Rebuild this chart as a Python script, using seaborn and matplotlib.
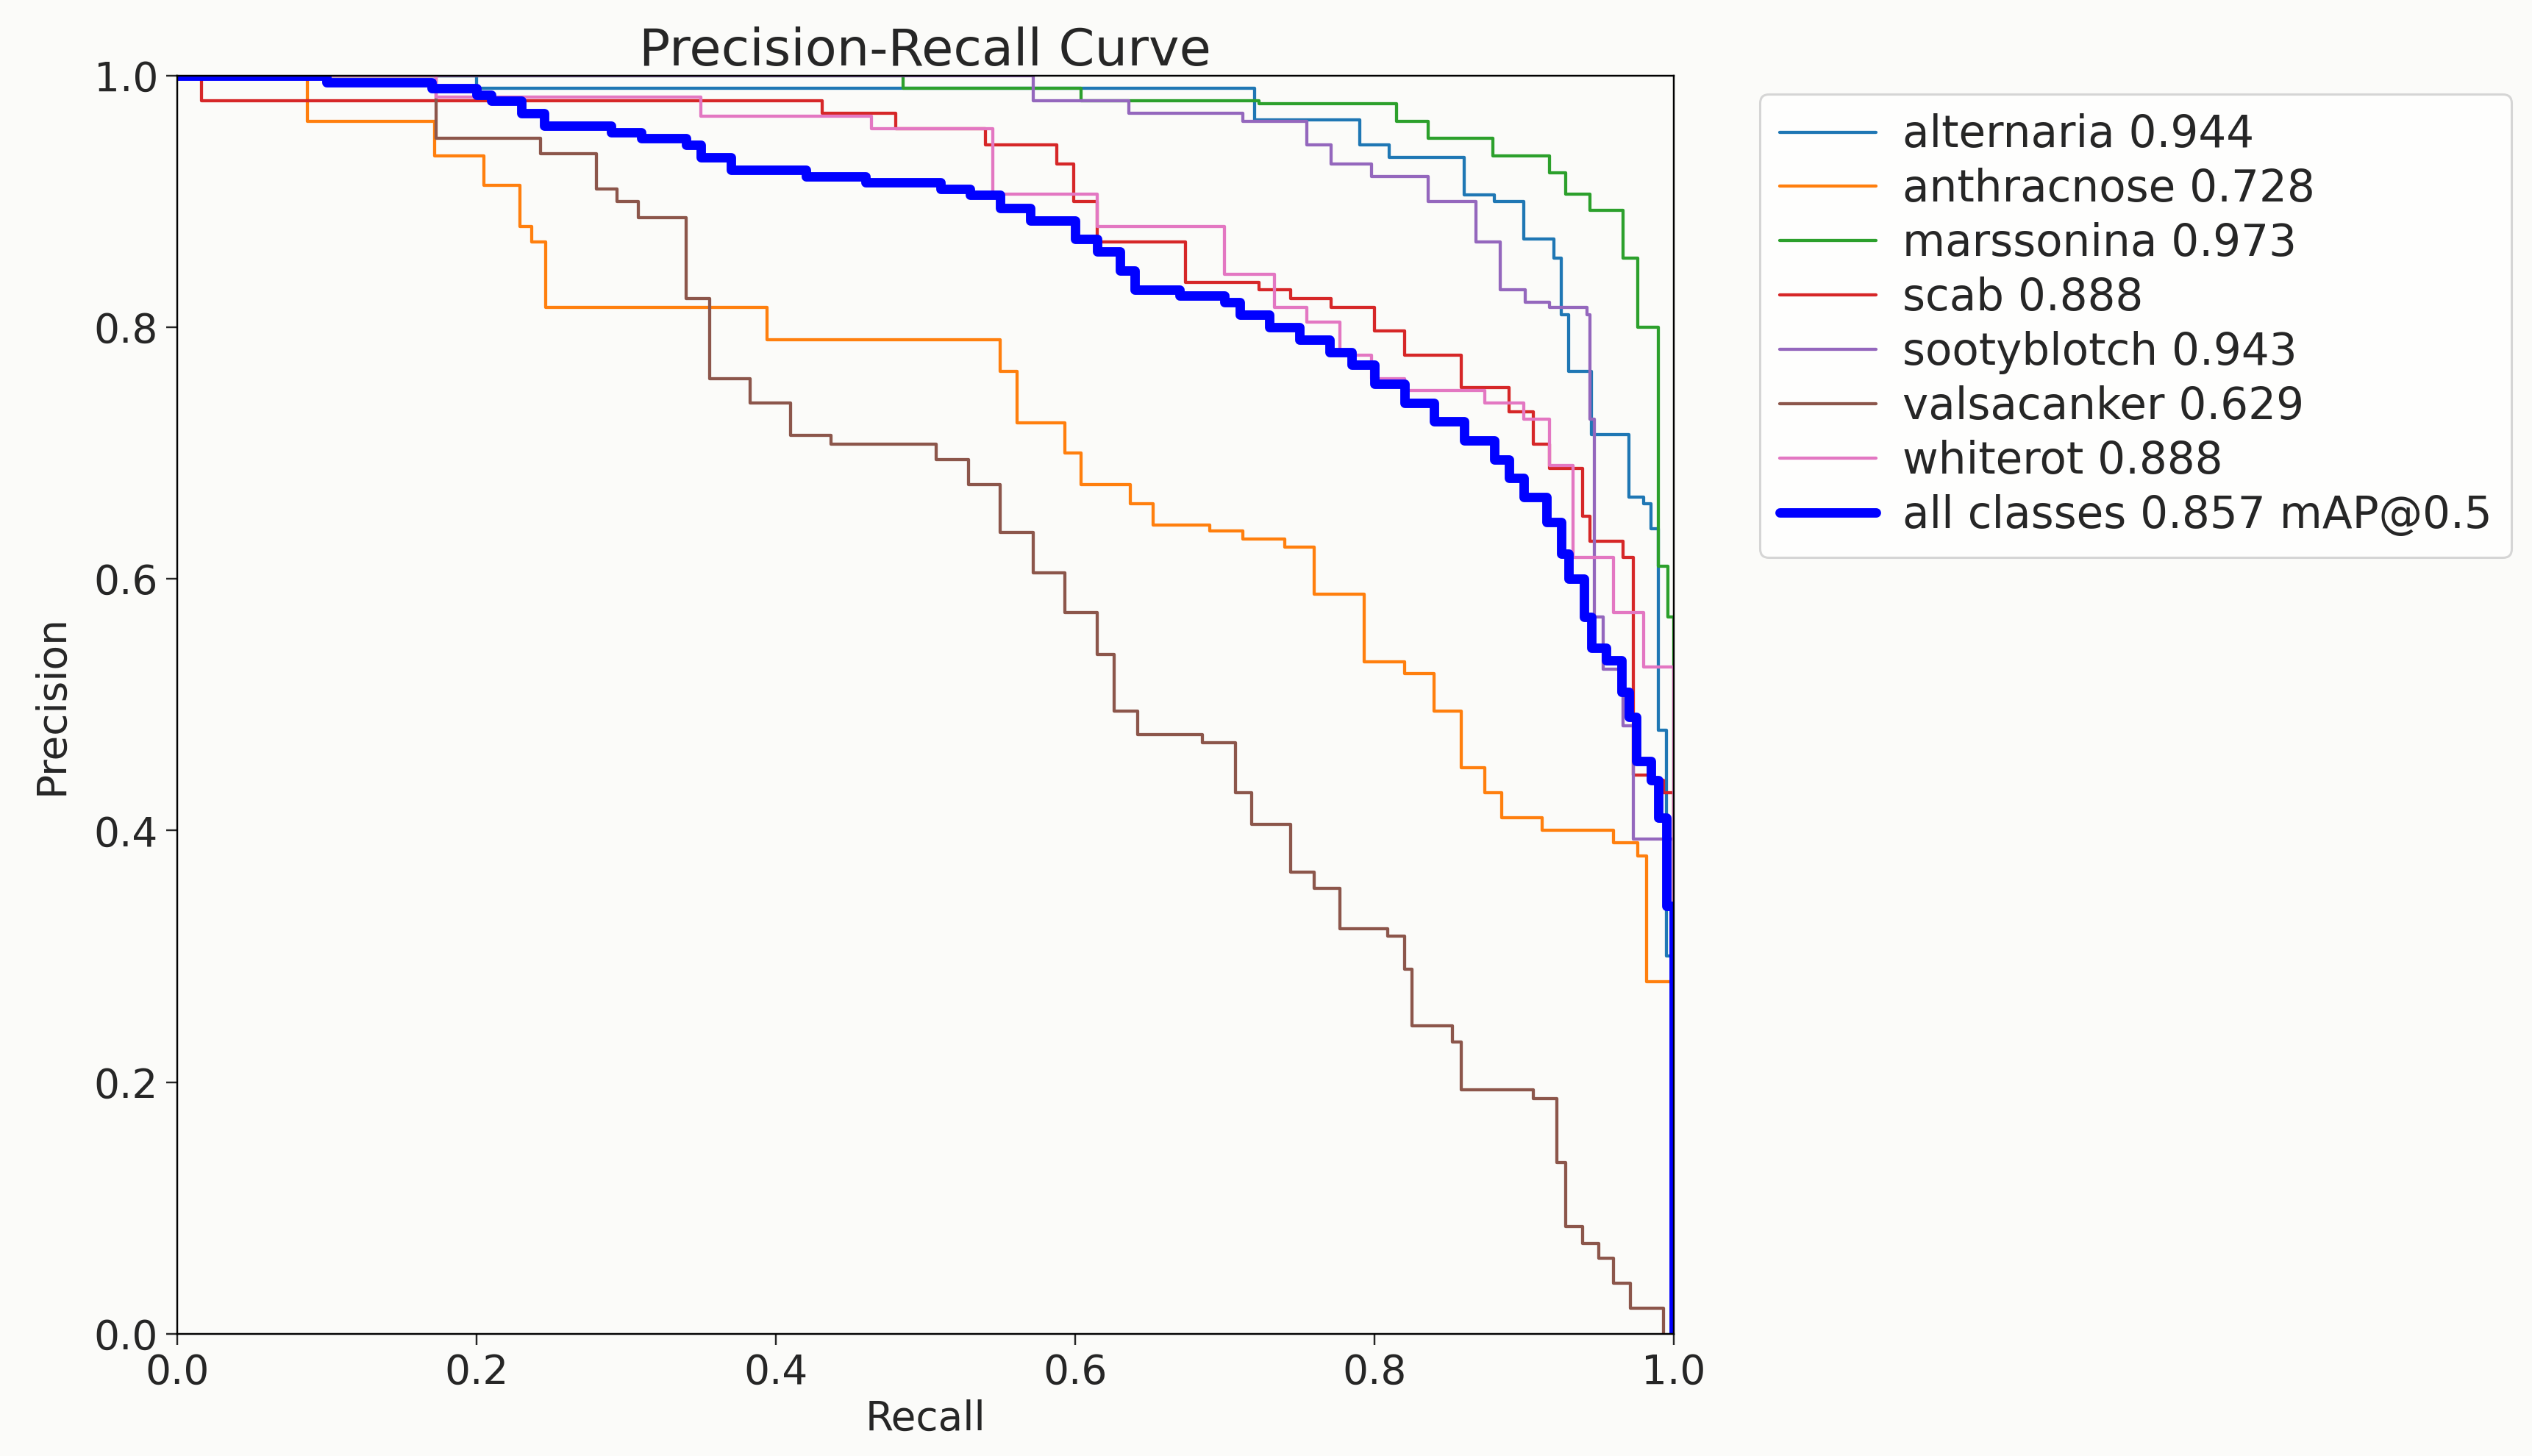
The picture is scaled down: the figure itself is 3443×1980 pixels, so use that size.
import numpy as np
import pandas as pd
import matplotlib
matplotlib.use("Agg")
import matplotlib.pyplot as plt
import seaborn as sns

## curve data (recall where a step starts, precision after it)
alt_r = [0, 0.2, 0.69, 0.72, 0.76, 0.79, 0.81, 0.84, 0.86, 0.88, 0.9, 0.92, 0.925, 0.93, 0.945, 0.97, 0.98, 0.985, 0.99, 0.995, 1.0]
alt_p = [1.0, 0.99, 0.99, 0.965, 0.965, 0.945, 0.935, 0.935, 0.905, 0.9, 0.87, 0.855, 0.81, 0.765, 0.715, 0.665, 0.66, 0.64, 0.48, 0.3, 0.0]

ant_r = [0, 0.087, 0.172, 0.205, 0.229, 0.237, 0.246, 0.394, 0.55, 0.561, 0.593, 0.604, 0.637, 0.652, 0.69, 0.712, 0.74, 0.76, 0.793, 0.82, 0.84, 0.858, 0.874, 0.885, 0.912, 0.96, 0.976, 0.982, 1.0]
ant_p = [1.0, 0.964, 0.936, 0.913, 0.88, 0.868, 0.816, 0.79, 0.765, 0.724, 0.70, 0.675, 0.66, 0.643, 0.638, 0.632, 0.625, 0.588, 0.534, 0.525, 0.495, 0.45, 0.43, 0.41, 0.40, 0.39, 0.38, 0.28, 0.0]

mar_r = [0, 0.485, 0.604, 0.723, 0.815, 0.836, 0.879, 0.917, 0.928, 0.944, 0.966, 0.976, 0.99, 0.996, 1.0]
mar_p = [1.0, 0.99, 0.98, 0.978, 0.964, 0.95, 0.936, 0.923, 0.906, 0.893, 0.855, 0.80, 0.61, 0.57, 0.0]

scab_r = [0, 0.016, 0.431, 0.48, 0.54, 0.588, 0.599, 0.615, 0.674, 0.723, 0.744, 0.771, 0.8, 0.82, 0.858, 0.89, 0.906, 0.917, 0.939, 0.944, 0.966, 0.973, 0.984, 0.993, 1.0]
scab_p = [1.0, 0.98, 0.97, 0.958, 0.945, 0.93, 0.90, 0.868, 0.836, 0.83, 0.823, 0.816, 0.797, 0.778, 0.752, 0.733, 0.707, 0.688, 0.65, 0.63, 0.617, 0.444, 0.44, 0.43, 0.0]

soot_r = [0, 0.572, 0.636, 0.712, 0.755, 0.771, 0.798, 0.836, 0.868, 0.884, 0.901, 0.917, 0.942, 0.944, 0.947, 0.953, 0.966, 0.973, 1.0]
soot_p = [1.0, 0.98, 0.97, 0.964, 0.945, 0.93, 0.92, 0.90, 0.868, 0.83, 0.82, 0.816, 0.81, 0.727, 0.57, 0.528, 0.483, 0.393, 0.0]

val_r = [0, 0.173, 0.243, 0.28, 0.294, 0.308, 0.34, 0.356, 0.383, 0.41, 0.437, 0.507, 0.529, 0.55, 0.572, 0.593, 0.615, 0.626, 0.642, 0.685, 0.707, 0.718, 0.744, 0.76, 0.777, 0.809, 0.82, 0.825, 0.852, 0.858, 0.906, 0.922, 0.928, 0.939, 0.95, 0.96, 0.971, 0.993]
val_p = [1.0, 0.95, 0.938, 0.91, 0.9, 0.887, 0.823, 0.759, 0.74, 0.714, 0.707, 0.695, 0.675, 0.637, 0.605, 0.573, 0.54, 0.495, 0.476, 0.47, 0.43, 0.405, 0.367, 0.354, 0.322, 0.316, 0.29, 0.245, 0.232, 0.194, 0.187, 0.136, 0.085, 0.072, 0.06, 0.04, 0.02, 0.0]

wht_r = [0, 0.173, 0.35, 0.464, 0.545, 0.615, 0.70, 0.733, 0.755, 0.777, 0.798, 0.82, 0.874, 0.90, 0.917, 0.933, 0.96, 0.98, 1.0]
wht_p = [1.0, 0.983, 0.968, 0.958, 0.906, 0.88, 0.842, 0.816, 0.804, 0.778, 0.759, 0.75, 0.74, 0.727, 0.69, 0.617, 0.573, 0.53, 0.0]

all_r = [0, 0.1, 0.17, 0.2, 0.21, 0.23, 0.245, 0.29, 0.31, 0.34, 0.35, 0.37, 0.42, 0.46, 0.51, 0.53, 0.55, 0.57, 0.6, 0.615, 0.63, 0.64, 0.67, 0.7, 0.71, 0.73, 0.75, 0.77, 0.785, 0.8, 0.82, 0.84, 0.86, 0.88, 0.89, 0.9, 0.915, 0.925, 0.93, 0.94, 0.945, 0.955, 0.965, 0.97, 0.975, 0.985, 0.99, 0.995, 1.0]
all_p = [1.0, 0.995, 0.99, 0.985, 0.98, 0.97, 0.96, 0.955, 0.95, 0.945, 0.935, 0.925, 0.92, 0.915, 0.91, 0.905, 0.895, 0.885, 0.87, 0.86, 0.845, 0.83, 0.825, 0.82, 0.81, 0.80, 0.79, 0.78, 0.77, 0.755, 0.74, 0.725, 0.71, 0.695, 0.68, 0.665, 0.645, 0.62, 0.60, 0.57, 0.545, 0.535, 0.51, 0.49, 0.455, 0.44, 0.41, 0.34, 0.0]

names = ['alternaria 0.944', 'anthracnose 0.728', 'marssonina 0.973', 'scab 0.888',
         'sootyblotch 0.943', 'valsacanker 0.629', 'whiterot 0.888']
curves = [(alt_r, alt_p), (ant_r, ant_p), (mar_r, mar_p), (scab_r, scab_p),
          (soot_r, soot_p), (val_r, val_p), (wht_r, wht_p)]
colors = sns.color_palette('tab10')

sns.set_style('ticks')
plt.rcParams['font.family'] = ['DejaVu Sans']
fig = plt.figure(figsize=(15.65, 9), dpi=220, facecolor='#fbfbf9')
ax = fig.add_axes([0.070, 0.084, 0.591, 0.864])
ax.set_facecolor('#fbfbf9')

for i, (name, (r, p)) in enumerate(zip(names, curves)):
    df = pd.DataFrame({'Recall': r, 'Precision': p})
    sns.lineplot(data=df, x='Recall', y='Precision', ax=ax, color=colors[i], lw=1.4,
                 drawstyle='steps-post', sort=False, estimator=None, label=name)

dfa = pd.DataFrame({'Recall': all_r, 'Precision': all_p})
sns.lineplot(data=dfa, x='Recall', y='Precision', ax=ax, color='#0000ff', lw=4.2,
             drawstyle='steps-post', sort=False, estimator=None, label='all classes 0.857 mAP@0.5')

ax.set_xlim(0, 1)
ax.set_ylim(0, 1)
ax.set_xticks(np.arange(0, 1.01, 0.2))
ax.set_yticks(np.arange(0, 1.01, 0.2))
ax.tick_params(labelsize=18, length=5)
ax.set_xlabel('Recall', fontsize=18, labelpad=3)
ax.set_ylabel('Precision', fontsize=18, labelpad=10)
ax.set_title('Precision-Recall Curve', fontsize=23, pad=4)
for s in ax.spines.values():
    s.set_visible(True)
    s.set_color('black')
leg = ax.legend(loc='upper left', bbox_to_anchor=(1.043, 1.003), fontsize=19.5,
                frameon=True, handlelength=2.2, handletextpad=0.6,
                labelspacing=0.25, borderpad=0.45)
leg.get_frame().set_facecolor('white')

fig.savefig('out.png', dpi=220, facecolor=fig.get_facecolor())
